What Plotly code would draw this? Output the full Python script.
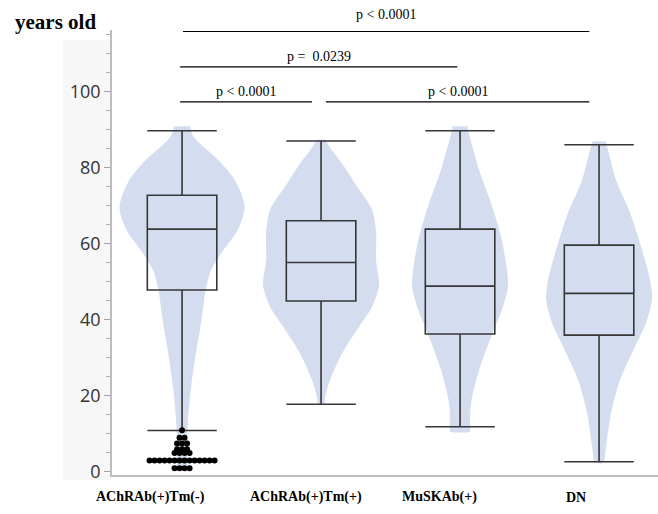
import plotly.graph_objects as go

# ---------------- data ----------------
categories = ["AChRAb(+)Tm(-)", "AChRAb(+)Tm(+)", "MuSKAb(+)", "DN"]

q1 = [47.9, 45.0, 36.3, 36.0]
median = [63.9, 55.1, 48.9, 47.0]
q3 = [72.8, 66.1, 63.9, 59.7]
lower_whisker = [10.9, 17.8, 11.9, 2.7]
upper_whisker = [89.8, 87.1, 89.8, 86.1]

# violin density profiles (age value, half-width in category units)
v1_age = [91, 89, 87.4, 82.1, 76.8, 69.8, 63.7, 57.5, 53.2, 47.9, 40, 31.3, 22.4, 13.7, 8.4, 1]
v1_w = [0.058, 0.072, 0.10, 0.26, 0.38, 0.45, 0.40, 0.28, 0.21, 0.17, 0.14, 0.10, 0.065, 0.043, 0.036, 0.029]
v2_age = [87.5, 85, 81.2, 75.1, 69, 62.8, 56, 49, 43.5, 38.2, 31.2, 24.2, 19.8, 17.8]
v2_w = [0.029, 0.072, 0.151, 0.259, 0.367, 0.396, 0.395, 0.417, 0.367, 0.273, 0.151, 0.065, 0.029, 0.022]
v3_age = [91, 90, 79.5, 70.7, 61.9, 53.2, 48.8, 43.5, 35.6, 26.8, 18.1, 11, 10.6]
v3_w = [0.054, 0.058, 0.137, 0.223, 0.295, 0.338, 0.345, 0.309, 0.223, 0.137, 0.079, 0.072, 0.072]
v4_age = [87, 86.6, 76.8, 68.2, 59.3, 50.5, 45.3, 39.2, 33, 24.2, 15.5, 6.7, 2.5]
v4_w = [0.043, 0.05, 0.122, 0.223, 0.302, 0.367, 0.381, 0.338, 0.259, 0.151, 0.086, 0.05, 0.029]

# outliers of AChRAb(+)Tm(-): age value and number of patients at that value
outlier_age = [11, 9, 7.5, 6, 5, 3, 1]
outlier_count = [1, 2, 3, 3, 4, 14, 4]

# significance comparisons (group a, group b, label)
comp_a = [0, 0, 0, 1]
comp_b = [3, 2, 1, 3]
comp_p = ["p < 0.0001", "p =  0.0239", "p < 0.0001", "p < 0.0001"]

y_ticks = [0, 20, 40, 60, 80, 100]

# ---------------- figure ----------------
VIOLIN = "#d4ddef"
BOXLINE = "#363636"
SERIF = "Liberation Serif, Times New Roman, serif"
XR = [-0.504, 3.424]
YR = [-0.8, 116.3]

fig = go.Figure()

profiles = [(v1_age, v1_w), (v2_age, v2_w), (v3_age, v3_w), (v4_age, v4_w)]
for i, (ages, ws) in enumerate(profiles):
    xs = [i - w for w in ws] + [i + w for w in reversed(ws)]
    ys = list(ages) + list(reversed(ages))
    fig.add_trace(go.Scatter(
        x=xs, y=ys, mode="lines", fill="toself", fillcolor=VIOLIN,
        line=dict(width=0, shape="spline", smoothing=0.8, color=VIOLIN),
        hoverinfo="skip", showlegend=False))

# boxes on an overlaying axis pair so they are drawn above the violins
for i in range(len(categories)):
    fig.add_trace(go.Box(
        x=[i], q1=[q1[i]], median=[median[i]], q3=[q3[i]],
        lowerfence=[lower_whisker[i]], upperfence=[upper_whisker[i]],
        width=0.5, whiskerwidth=1, boxpoints=False,
        fillcolor="rgba(0,0,0,0)", line=dict(color=BOXLINE, width=1.6),
        showlegend=False, hoverinfo="skip", xaxis="x2", yaxis="y2"))

dot_step = 0.036
ox, oy = [], []
for age, n in zip(outlier_age, outlier_count):
    for k in range(n):
        ox.append(0 + (k - (n - 1) / 2) * dot_step)
        oy.append(age)
fig.add_trace(go.Scatter(x=ox, y=oy, mode="markers",
                         marker=dict(color="black", size=6),
                         showlegend=False, hoverinfo="skip", xaxis="x2", yaxis="y2"))

# significance brackets
levels = [115.9, 106.6, 97.4, 97.4]
start_off = [0.007, -0.014, -0.014, 0.035]
end_off = [-0.07, -0.02, -0.065, -0.07]
text_shift = [17, 10, 10, 10]
for a, b, p, lv, so, eo, ts in zip(comp_a, comp_b, comp_p, levels, start_off, end_off, text_shift):
    x0, x1 = a + so, b + eo
    fig.add_shape(type="line", xref="x", yref="y", x0=x0, x1=x1, y0=lv, y1=lv,
                  line=dict(color="black", width=1.2))
    fig.add_annotation(x=(x0 + x1) / 2, y=lv, xref="x", yref="y", text=p,
                       showarrow=False, yshift=ts, yanchor="middle",
                       font=dict(family=SERIF, size=14, color="black"))

# category labels
label_off = [-0.23, -0.105, -0.145, -0.165]
for i, (c, off) in enumerate(zip(categories, label_off)):
    fig.add_annotation(x=i + off, y=0.0, xref="x", yref="paper", text="<b>%s</b>" % c,
                       showarrow=False, yshift=-22, yanchor="middle",
                       font=dict(family=SERIF, size=14, color="black"))

fig.add_annotation(x=-0.104, y=1.0, xref="paper", yref="paper", text="<b>years old</b>",
                   showarrow=False, xanchor="center", yanchor="middle", yshift=8,
                   font=dict(family=SERIF, size=21, color="black"))

# light panel behind y-axis labels
fig.add_shape(type="rect", xref="paper", yref="paper", x0=-0.09, x1=0, y0=-0.011, y1=0.978,
              fillcolor="#f7f7f7", line=dict(width=0), layer="below")

fig.update_layout(
    width=658, height=514,
    margin=dict(l=112, r=0, t=30, b=39),
    paper_bgcolor="white", plot_bgcolor="rgba(0,0,0,0)",
    showlegend=False,
    xaxis=dict(range=XR, showgrid=False, zeroline=False,
               showticklabels=False, ticks="", showline=True,
               linecolor="#bdbdbd", linewidth=1.5),
    yaxis=dict(range=YR, tickvals=y_ticks, showgrid=False, zeroline=False,
               showline=True, linecolor="#bdbdbd", linewidth=1.5,
               ticks="outside", ticklen=6, tickcolor="#a0a0a0", tickwidth=1,
               tickfont=dict(family="Open Sans, sans-serif", size=18, color="#333333"),
               minor=dict(dtick=5, tick0=0, ticks="outside", ticklen=4,
                          tickcolor="#b0b0b0", tickwidth=1, showgrid=False)),
    xaxis2=dict(range=XR, overlaying="x", visible=False, showgrid=False, zeroline=False),
    yaxis2=dict(range=YR, overlaying="y", visible=False, showgrid=False, zeroline=False),
)

fig.write_html("out.html", config={"displayModeBar": False},
               post_script="document.body.style.margin='0px';document.body.style.padding='0px';")
